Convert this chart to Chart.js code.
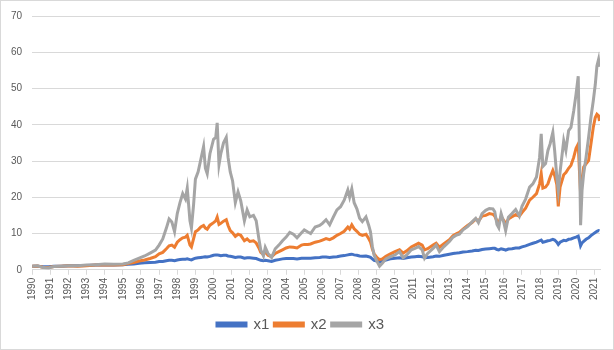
<!DOCTYPE html>
<html>
<head>
<meta charset="utf-8">
<script src="https://cdn.jsdelivr.net/npm/chart.js@4/dist/chart.umd.min.js"></script>
<style>
  html, body { margin: 0; padding: 0; background: #fff; }
  #wrap { position: relative; width: 614px; height: 350px; }
  #frame { position: absolute; left: 0; top: 0; width: 614px; height: 350px; box-sizing: border-box; border: 1px solid #d9d9d9; pointer-events: none; }
</style>
</head>
<body>
<div id="wrap">
  <canvas id="myChart" width="614" height="350"></canvas>
  <div id="frame"></div>
</div>
<script>
// values
const years = [
  1990.0, 1990.3, 1990.6, 1990.9, 1991.2, 1991.6, 1992.0, 1992.5, 1993.0, 1993.5,
  1994.0, 1994.5, 1995.0, 1995.3, 1995.6, 1995.9, 1996.2, 1996.5, 1996.8, 1997.0,
  1997.2, 1997.4, 1997.55, 1997.7, 1997.85, 1998.0, 1998.15, 1998.3, 1998.45, 1998.55,
  1998.7, 1998.78, 1998.9, 1999.0, 1999.15, 1999.3, 1999.45, 1999.55, 1999.65, 1999.8,
  2000.0, 2000.12, 2000.2, 2000.3, 2000.4, 2000.55, 2000.7, 2000.8, 2000.92, 2001.05,
  2001.2, 2001.35, 2001.5, 2001.7, 2001.85, 2002.0, 2002.2, 2002.35, 2002.5, 2002.6,
  2002.75, 2002.85, 2003.0, 2003.2, 2003.4, 2003.6, 2003.8, 2004.0, 2004.2, 2004.4,
  2004.6, 2004.85, 2005.0, 2005.2, 2005.35, 2005.6, 2005.85, 2006.0, 2006.2, 2006.4,
  2006.6, 2006.8, 2007.0, 2007.2, 2007.4, 2007.5, 2007.62, 2007.75, 2007.9, 2008.05,
  2008.2, 2008.4, 2008.55, 2008.65, 2008.75, 2008.85, 2009.0, 2009.15, 2009.3, 2009.5,
  2009.75, 2010.0, 2010.25, 2010.45, 2010.65, 2010.9, 2011.1, 2011.3, 2011.5, 2011.63,
  2011.8, 2012.1, 2012.27, 2012.45, 2012.7, 2013.0, 2013.2, 2013.4, 2013.55, 2013.75,
  2014.0, 2014.25, 2014.45, 2014.6, 2014.8, 2015.0, 2015.2, 2015.4, 2015.5, 2015.62,
  2015.72, 2015.85, 2016.0, 2016.1, 2016.25, 2016.45, 2016.65, 2016.85, 2017.0, 2017.2,
  2017.42, 2017.6, 2017.8, 2017.97, 2018.06, 2018.15, 2018.3, 2018.43, 2018.55, 2018.7,
  2018.8, 2018.92, 2019.0, 2019.1, 2019.3, 2019.42, 2019.57, 2019.7, 2019.85, 2019.98,
  2020.1, 2020.17, 2020.23, 2020.31, 2020.4, 2020.53, 2020.67, 2020.8, 2020.93, 2021.04,
  2021.13, 2021.22, 2021.27
];

const x1 = [
  1.0, 1.0, 0.8, 0.8, 1.0, 1.0, 1.1, 1.1, 1.2, 1.3,
  1.3, 1.3, 1.4, 1.5, 1.6, 1.8, 1.9, 2.0, 2.1, 2.3,
  2.3, 2.5, 2.6, 2.6, 2.5, 2.7, 2.8, 2.9, 2.9, 3.0,
  2.8, 2.7, 3.0, 3.2, 3.3, 3.4, 3.5, 3.6, 3.5, 3.7,
  4.0, 4.1, 4.1, 4.0, 3.9, 4.0, 4.0, 3.8, 3.7, 3.6,
  3.4, 3.5, 3.5, 3.2, 3.3, 3.3, 3.2, 3.1, 2.8, 2.6,
  2.5, 2.6, 2.5, 2.3, 2.6, 2.8, 3.0, 3.1, 3.1, 3.1,
  3.0, 3.2, 3.2, 3.2, 3.2, 3.3, 3.4, 3.5, 3.5, 3.4,
  3.5, 3.6, 3.8, 3.9, 4.1, 4.2, 4.3, 4.1, 4.0, 3.8,
  3.7, 3.8, 3.6, 3.4, 3.0, 2.6, 2.4, 2.2, 2.4, 2.7,
  3.0, 3.2, 3.3, 3.1, 3.3, 3.5, 3.6, 3.7, 3.6, 3.3,
  3.4, 3.6, 3.8, 3.7, 4.0, 4.3, 4.5, 4.6, 4.7, 4.9,
  5.0, 5.2, 5.4, 5.3, 5.6, 5.7, 5.8, 5.9, 5.9, 5.6,
  5.5, 5.8, 5.6, 5.4, 5.7, 5.8, 6.0, 6.0, 6.3, 6.6,
  7.0, 7.3, 7.6, 8.0, 8.2, 7.6, 7.8, 8.0, 8.1, 8.4,
  8.2, 7.6, 7.0, 7.6, 8.1, 8.0, 8.4, 8.5, 8.8, 9.0,
  9.3, 8.0, 6.6, 7.4, 7.8, 8.4, 8.8, 9.4, 9.9, 10.3,
  10.6, 10.8, 10.7
];

const x2 = [
  1.0, 1.05, 0.7, 0.6, 0.9, 1.0, 1.1, 1.0, 1.1, 1.3,
  1.4, 1.3, 1.4, 1.7, 2.0, 2.4, 2.7, 3.1, 3.6, 4.4,
  4.8, 5.8, 6.6, 6.8, 6.2, 7.6, 8.3, 8.8, 9.0, 9.5,
  6.8, 6.3, 8.6, 10.5, 11.0, 11.8, 12.2, 11.5, 11.2, 12.3,
  13.0, 13.5, 14.5, 12.5, 12.8, 13.4, 13.8, 12.2, 10.8, 10.2,
  9.2, 9.8, 9.5, 8.0, 8.5, 7.8, 8.0, 7.4, 6.0, 4.8,
  4.2, 5.0, 4.0, 3.6, 4.5, 5.0, 5.5, 6.0, 6.3, 6.2,
  6.0, 6.8, 7.0, 7.0, 7.1, 7.6, 7.9, 8.2, 8.6, 8.3,
  8.8, 9.5, 10.0, 10.6, 11.8, 11.2, 12.4, 11.3, 10.6, 9.8,
  9.5, 9.8, 8.6, 7.6, 5.8, 4.4, 3.4, 2.8, 3.0, 3.7,
  4.4, 5.0, 5.5, 4.6, 5.2, 6.3, 6.8, 7.3, 6.8, 5.5,
  5.8, 6.8, 7.3, 6.2, 7.2, 8.3, 9.4, 10.0, 10.3, 11.2,
  12.2, 13.0, 14.0, 13.4, 14.8, 15.0, 15.5, 15.3, 14.8, 13.5,
  13.0, 14.6, 13.6, 12.6, 14.0, 14.6, 15.2, 14.8, 15.8, 17.0,
  19.2, 20.0, 21.0, 23.7, 26.5, 22.5, 22.8, 23.7, 25.5, 27.4,
  26.0, 23.5, 17.5, 22.8, 26.2, 26.8, 28.0, 28.8, 31.0, 33.5,
  34.7, 27.0, 21.0, 24.5, 28.3, 29.2, 30.1, 34.7, 39.3, 42.0,
  42.9, 42.5, 41.0
];

const x3 = [
  1.0, 1.1, 0.6, 0.5, 0.9, 1.0, 1.1, 1.1, 1.3, 1.4,
  1.6, 1.5, 1.6, 1.9, 2.6, 3.2, 3.8, 4.6, 5.4, 6.8,
  8.5, 11.5, 14.0, 13.2, 10.5, 15.5, 18.5, 21.0, 19.5, 22.5,
  13.5, 11.5, 18.0, 25.0, 27.0, 30.5, 34.0, 28.0, 26.5, 32.0,
  36.0, 36.5, 40.5, 29.0, 32.0, 35.0, 36.5, 31.0, 27.0, 24.5,
  18.5, 21.5, 19.0, 13.5, 16.5, 14.6, 15.0, 13.5, 8.5, 5.5,
  3.8, 6.2, 4.5, 3.4, 5.8, 6.8, 8.0, 9.0, 10.3, 9.8,
  8.8, 10.2, 11.0, 10.4, 10.0, 11.8, 12.2, 12.8, 13.8, 12.4,
  14.5, 16.5, 17.4, 19.2, 22.0, 20.0, 22.3, 18.5, 16.8, 14.2,
  13.3, 14.6, 12.3, 10.5, 6.5, 4.0, 2.4, 1.0, 1.8, 3.0,
  3.6, 4.1, 5.0, 3.3, 4.1, 5.5, 5.9, 6.4, 5.5, 3.2,
  4.5, 5.9, 6.8, 5.0, 6.4, 7.8, 9.0, 9.6, 9.8, 11.0,
  11.9, 13.2, 14.2, 13.0, 15.5, 16.4, 16.9, 16.8, 16.0, 12.5,
  11.6, 15.5, 13.0, 10.8, 14.5, 15.5, 16.6, 14.8, 17.5, 19.5,
  22.8, 23.7, 25.6, 31.0, 37.5, 28.5, 29.3, 32.9, 34.7, 37.9,
  32.9, 25.6, 21.9, 27.0, 35.6, 32.9, 38.4, 39.3, 43.8, 48.4,
  53.4, 33.0, 12.3, 21.9, 26.5, 31.0, 36.5, 42.0, 46.6, 51.1,
  56.2, 58.0, 56.0
];

const seriesNames = ["x1", "x2", "x3"];
const tickYears = [];
for (let y = 1990; y <= 2021; y++) tickYears.push(y);

const lineColors = ["#4472C4", "#ED7D31", "#A5A5A5"];
const allSeries = [x1, x2, x3];

function toPoints(vals) {
    return years.map((t, i) => ({x: t, y: vals[i]}));
}

Chart.defaults.font.family = "'Liberation Sans', Arial, sans-serif";
Chart.defaults.color = "#595959";

new Chart("myChart", {
    type: "line",
    data: {
        datasets: allSeries.map((vals, i) => ({
            label: seriesNames[i],
            data: toPoints(vals),
            borderColor: lineColors[i],
            backgroundColor: lineColors[i],
            borderWidth: 3,
            pointRadius: 0,
            tension: 0,
            order: 2 - i   // x3 on top, like the original
        }))
    },
    options: {
        responsive: false,
        animation: false,
        layout: {padding: {left: 1, right: 14, top: 9, bottom: 8}},
        plugins: {
            tooltip: {enabled: false},
            legend: {
                position: "bottom",
                labels: {
                    boxWidth: 29,
                    boxHeight: 3,
                    padding: 5,
                    font: {size: 15},
                    color: "#595959",
                    sort: (a, b) => a.datasetIndex - b.datasetIndex
                }
            }
        },
        scales: {
            x: {
                type: "linear",
                min: 1990,
                max: 2021.3,
                afterBuildTicks: (scale) => {
                    scale.ticks = tickYears.map(v => ({value: v}));
                },
                // leave a gap between the year labels and the legend
                afterFit: (scale) => { scale.height += 9; },
                ticks: {
                    autoSkip: false,
                    minRotation: 90,
                    maxRotation: 90,
                    padding: 3,
                    font: {size: 10},
                    callback: (v) => String(v)
                },
                grid: {
                    drawOnChartArea: false,
                    drawTicks: true,
                    tickLength: 5,
                    color: "#d9d9d9"
                },
                border: {color: "#d9d9d9"}
            },
            y: {
                min: 0,
                max: 70,
                ticks: {stepSize: 10, padding: 10, font: {size: 10}},
                grid: {color: "#d9d9d9", drawTicks: false},
                border: {display: false}
            }
        }
    }
});
</script>
</body>
</html>
